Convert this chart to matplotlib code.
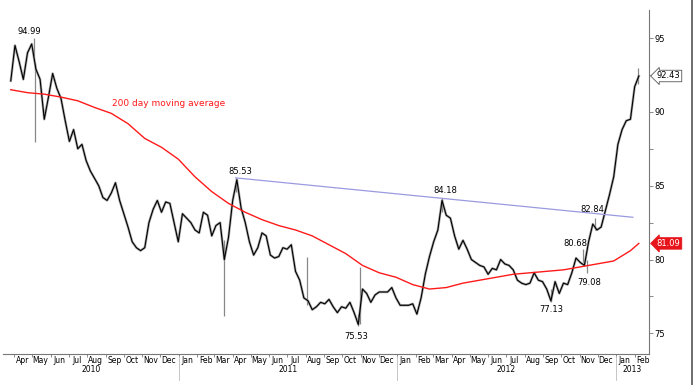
import pandas as pd
import matplotlib
matplotlib.use('Agg')
import matplotlib.pyplot as plt
import matplotlib.dates as mdates
import matplotlib.transforms as mtransforms
from matplotlib.lines import Line2D

# weekly closes (Fridays)
start = '2010-03-26'
price = [92.1, 94.5, 93.4, 92.2, 94.0, 94.6, 92.9, 92.2, 89.5, 91.0,
         92.6, 91.6, 90.9, 89.4, 88.0, 88.8, 87.5, 87.8, 86.7, 86.0,
         85.5, 85.0, 84.2, 84.0, 84.5, 85.2, 84.0, 83.1, 82.2, 81.2,
         80.8, 80.6, 80.8, 82.5, 83.4, 84.0, 83.2, 83.9, 83.8, 82.5,
         81.2, 83.1, 82.8, 82.5, 82.0, 81.8, 83.2, 83.0, 81.6, 82.3,
         82.5, 80.0, 81.5, 84.0, 85.4, 83.5, 82.5, 81.2, 80.3, 80.8,
         81.8, 81.6, 80.3, 80.1, 80.2, 80.8, 80.7, 81.0, 79.2, 78.6,
         77.4, 77.2, 76.6, 76.8, 77.1, 77.0, 77.3, 76.8, 76.4, 76.8,
         76.7, 77.1, 76.4, 75.6, 78.0, 77.7, 77.1, 77.6, 77.8, 77.8,
         77.8, 78.1, 77.4, 76.9, 76.9, 76.9, 77.0, 76.3, 77.4, 79.0,
         80.2, 81.2, 82.0, 84.0, 83.0, 82.8, 81.6, 80.7, 81.3, 80.7,
         80.0, 79.8, 79.6, 79.5, 79.0, 79.4, 79.3, 80.0, 79.7, 79.6,
         79.3, 78.6, 78.4, 78.3, 78.4, 79.1, 78.6, 78.5, 78.0, 77.2,
         78.5, 77.7, 78.4, 78.3, 79.1, 80.1, 79.8, 79.6, 81.2, 82.4,
         82.0, 82.2, 83.3, 84.4, 85.6, 87.8, 88.8, 89.4, 89.5, 91.7,
         92.43]

# 200 day moving average, every 4th week + last
ma = [91.5, 91.3, 91.2, 91.0, 90.75, 90.3, 89.9, 89.2, 88.2, 87.6,
      86.8, 85.6, 84.6, 83.8, 83.2, 82.7, 82.3, 82.0, 81.6, 81.0,
      80.4, 79.6, 79.1, 78.8, 78.3, 78.0, 78.1, 78.4, 78.6, 78.8,
      79.0, 79.1, 79.2, 79.3, 79.5, 79.7, 79.9, 80.6, 81.09]

# intraday spikes (date, low, high)
wick_dates = ['2010-05-03', '2010-05-06', '2011-03-17', '2011-04-06', '2011-08-04',
              '2011-10-28', '2011-10-31', '2012-03-16', '2012-09-14', '2012-11-06',
              '2012-11-13', '2012-11-27', '2013-02-06']
wick_lo = [93.8, 87.95, 76.2, 84.6, 76.9, 75.53, 75.6, 83.2, 77.13, 79.8, 79.08, 82.0, 91.9]
wick_hi = [94.99, 93.3, 81.3, 85.53, 80.2, 76.3, 79.5, 84.18, 78.0, 80.68, 80.0, 82.84, 93.0]

# labelled extremes
ann_dates = ['2010-05-03', '2011-04-06', '2012-03-16', '2012-11-27', '2012-11-06',
             '2012-11-13', '2012-09-14', '2011-10-28']
ann_vals = [94.99, 85.53, 84.18, 82.84, 80.68, 79.08, 77.13, 75.53]
ann_off = [(-3, 5), (3.6, 4.8), (2, 5.5), (-2, 6), (-5, 4), (2, -6.5), (0, -5.7), (-1.4, -8)]

trend_dates = ['2011-04-06', '2013-01-29']
trend_vals = [85.53, 82.86]

last_price = 92.43
last_ma = 81.09

dates = pd.date_range(start, periods=len(price), freq='7D')
ma_dates = list(dates[::4]) + [dates[-1]]

fig = plt.figure(figsize=(7, 3.85), dpi=100)
ax = fig.add_axes([3/700, 1-354/385, 646/700, 344/385])

ax.plot(dates, price, color='#aaaaaa', lw=1.8, zorder=2)
ax.plot(dates, price, color='black', lw=0.8, zorder=3)
ax.vlines(pd.to_datetime(wick_dates), wick_lo, wick_hi, color='#888888', lw=0.9, zorder=2)
ax.plot(ma_dates, ma, color='#ff1a1a', lw=1.0, zorder=4)
ax.plot(pd.to_datetime(trend_dates), trend_vals, color='#9a9ae0', lw=0.9, zorder=4)

for d, v, off in zip(ann_dates, ann_vals, ann_off):
    ax.annotate('%.2f' % v, (pd.Timestamp(d), v), xytext=off, textcoords='offset points',
                ha='center', va='center', fontsize=6, color='black')

ax.text(pd.Timestamp('2010-09-12'), 90.6, '200 day moving average', color='#ff1a1a',
        fontsize=6.5, va='center', ha='left')

ax.set_xlim(pd.Timestamp('2010-03-13'), pd.Timestamp('2013-02-25'))
ax.set_ylim(73.6, 96.9)

for s in ['left', 'top']:
    ax.spines[s].set_visible(False)
ax.spines['bottom'].set_color('#777777')
ax.spines['right'].set_color('#777777')
ax.spines['bottom'].set_linewidth(0.8)
ax.spines['right'].set_linewidth(0.8)

ax.yaxis.tick_right()
ax.set_yticks([75, 80, 85, 90, 95])
ax.set_yticks([77.5, 82.5, 87.5, 92.5], minor=True)
ax.tick_params(axis='y', which='both', direction='out', length=3, width=0.6,
               colors='#777777', labelcolor='black', labelsize=6, pad=1)

month_mid = pd.date_range('2010-04-01', '2013-02-01', freq='MS') + pd.Timedelta(days=14)
ax.xaxis.set_major_locator(mdates.MonthLocator())
ax.xaxis.set_major_formatter(plt.NullFormatter())
ax.set_xticks(month_mid, minor=True)
ax.xaxis.set_minor_formatter(mdates.DateFormatter('%b'))
ax.tick_params(axis='x', which='major', direction='out', length=2, width=0.6, colors='#777777')
ax.tick_params(axis='x', which='minor', length=0, labelsize=5.5, labelcolor='black', pad=1.5)

# year labels and separators
trans = mtransforms.blended_transform_factory(ax.transData, ax.transAxes)
for yr, center in [('2010', '2010-08-07'), ('2011', '2011-07-02'),
                   ('2012', '2012-07-01'), ('2013', '2013-01-28')]:
    ax.text(pd.Timestamp(center), -0.046, yr, transform=trans, ha='center', va='center',
            fontsize=5.5)
for sep in ['2011-01-01', '2012-01-01', '2013-01-01']:
    ax.add_line(Line2D([pd.Timestamp(sep)] * 2, [-0.005, -0.075], transform=trans,
                       color='#bbbbbb', lw=0.6, clip_on=False))

# value tags on right axis
ytrans = mtransforms.blended_transform_factory(ax.transAxes, ax.transData)
ax.text(1.012, last_price, '%.2f' % last_price, transform=ytrans, fontsize=6, va='center',
        ha='left', bbox=dict(boxstyle='larrow,pad=0.15', fc='white', ec='#555555', lw=0.6))
ax.text(1.012, last_ma, '%.2f' % last_ma, transform=ytrans, fontsize=6, va='center',
        ha='left', color='white',
        bbox=dict(boxstyle='larrow,pad=0.15', fc='#e8141c', ec='#e8141c', lw=0.6))

fig.add_artist(Line2D([692/700, 692/700], [0, 1], color='#555555', lw=1.2))

fig.savefig('out.png', dpi=100)
